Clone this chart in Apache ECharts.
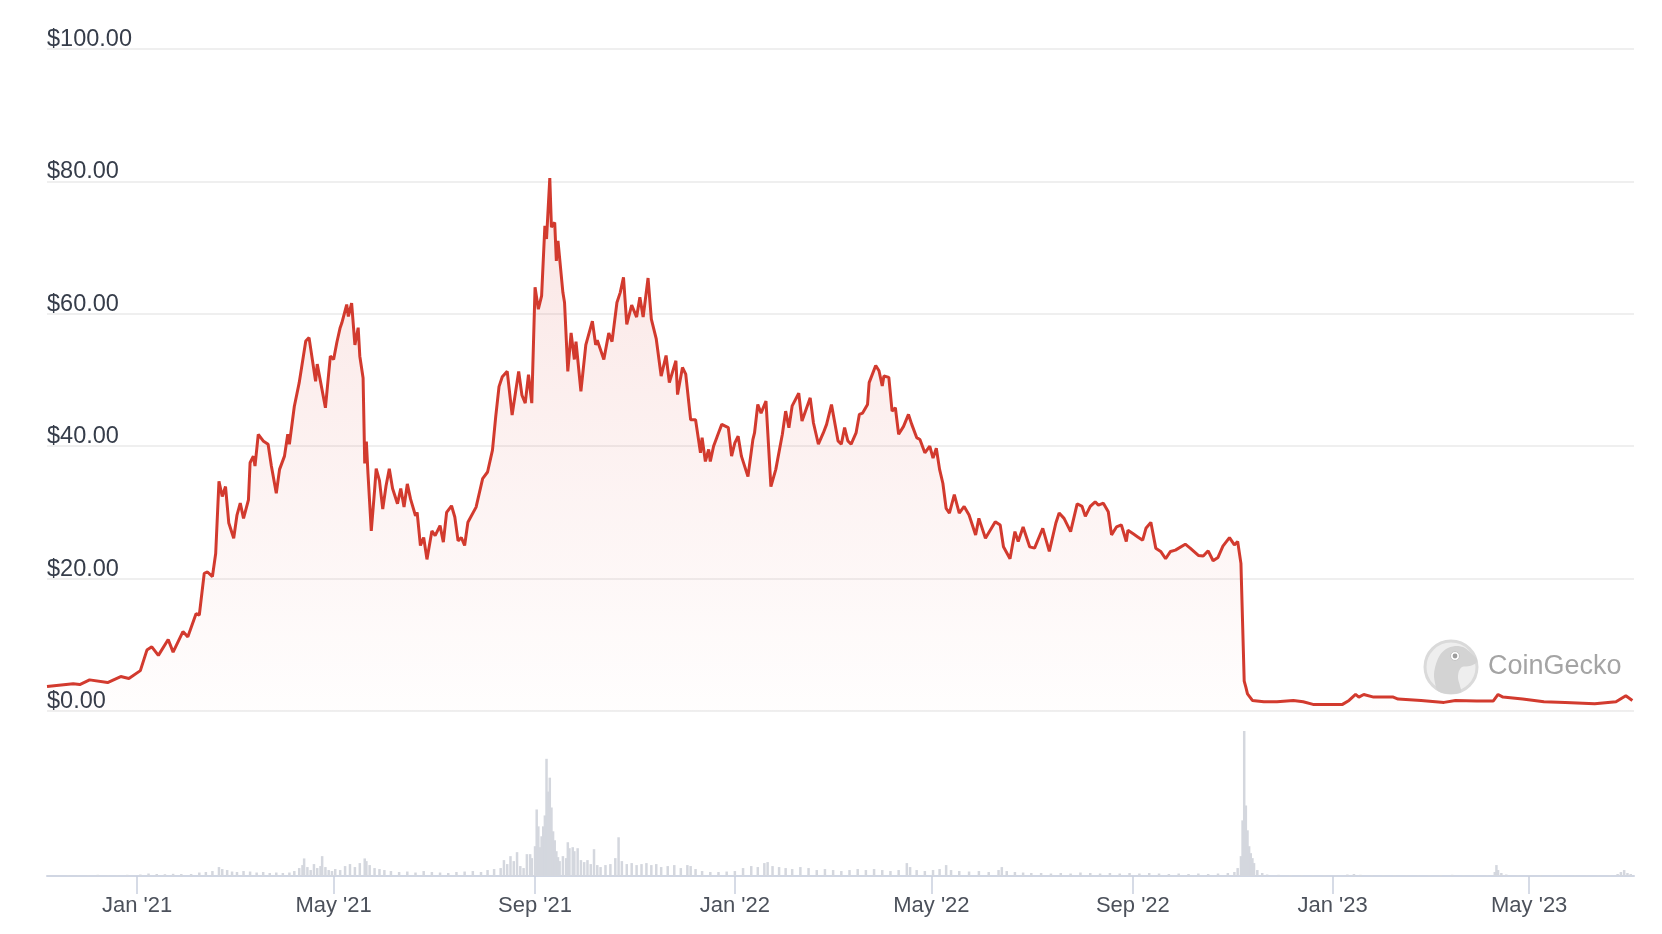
<!DOCTYPE html>
<html>
<head>
<meta charset="utf-8">
<script src="https://cdn.jsdelivr.net/npm/echarts@6/dist/echarts.min.js"></script>
<style>
html,body{margin:0;padding:0;background:#fff;}
#chart{width:1662px;height:934px;}
</style>
</head>
<body>
<div id="chart"></div>
<script>
// ---- Data ----
const axisStart = '2020-11-07';
const axisEnd = '2023-07-04';

const tickDates = ['2021-01-01','2021-05-01','2021-09-01','2022-01-01','2022-05-01','2022-09-01','2023-01-01','2023-05-01'];
const tickLabels = ["Jan '21","May '21","Sep '21","Jan '22","May '22","Sep '22","Jan '23","May '23"];

const priceTicks = [0, 20, 40, 60, 80, 100];

const priceDates = [
'2020-11-07','2020-11-23','2020-11-27','2020-12-03','2020-12-14','2020-12-22','2020-12-27',
'2021-01-03','2021-01-07','2021-01-10','2021-01-14','2021-01-20','2021-01-23','2021-01-29',
'2021-02-01','2021-02-06','2021-02-08','2021-02-11','2021-02-13','2021-02-16','2021-02-18','2021-02-20','2021-02-22','2021-02-24','2021-02-26',
'2021-03-01','2021-03-03','2021-03-05','2021-03-07','2021-03-10','2021-03-11','2021-03-13','2021-03-14','2021-03-16','2021-03-19','2021-03-22','2021-03-24','2021-03-27','2021-03-29',
'2021-04-01','2021-04-03','2021-04-04','2021-04-07','2021-04-10','2021-04-11','2021-04-14','2021-04-16','2021-04-20','2021-04-21','2021-04-26','2021-04-29',
'2021-05-01','2021-05-03','2021-05-05','2021-05-06','2021-05-09','2021-05-10','2021-05-12','2021-05-14','2021-05-16','2021-05-17','2021-05-19','2021-05-20','2021-05-21','2021-05-22','2021-05-24','2021-05-26','2021-05-27','2021-05-29','2021-05-31',
'2021-06-02','2021-06-04','2021-06-06','2021-06-09','2021-06-11','2021-06-13','2021-06-15','2021-06-17','2021-06-20','2021-06-21','2021-06-23','2021-06-25','2021-06-27','2021-06-30',
'2021-07-02','2021-07-05','2021-07-07','2021-07-09','2021-07-12','2021-07-14','2021-07-16','2021-07-18','2021-07-20','2021-07-22','2021-07-27','2021-07-31',
'2021-08-03','2021-08-06','2021-08-08','2021-08-10','2021-08-12','2021-08-15','2021-08-18','2021-08-22','2021-08-24','2021-08-26','2021-08-28','2021-08-30',
'2021-09-01','2021-09-03','2021-09-05','2021-09-07','2021-09-08','2021-09-10','2021-09-11','2021-09-13','2021-09-14','2021-09-15','2021-09-18','2021-09-19','2021-09-21','2021-09-23','2021-09-25','2021-09-26','2021-09-29',
'2021-10-02','2021-10-06','2021-10-08','2021-10-09','2021-10-13','2021-10-16','2021-10-18','2021-10-21','2021-10-23','2021-10-25','2021-10-27','2021-10-30',
'2021-11-02','2021-11-04','2021-11-06','2021-11-09','2021-11-11','2021-11-14','2021-11-17','2021-11-20','2021-11-22','2021-11-26','2021-11-27','2021-11-30',
'2021-12-02','2021-12-05','2021-12-08','2021-12-11','2021-12-12','2021-12-14','2021-12-16','2021-12-17','2021-12-19','2021-12-22','2021-12-24','2021-12-28','2021-12-30',
'2022-01-01','2022-01-03','2022-01-05','2022-01-09','2022-01-12','2022-01-13','2022-01-15','2022-01-17','2022-01-20','2022-01-23','2022-01-26','2022-01-30',
'2022-02-01','2022-02-03','2022-02-05','2022-02-09','2022-02-11','2022-02-16','2022-02-18','2022-02-21','2022-02-24','2022-02-26',
'2022-03-01','2022-03-02','2022-03-05','2022-03-07','2022-03-09','2022-03-11','2022-03-13','2022-03-16','2022-03-18','2022-03-20','2022-03-23','2022-03-24','2022-03-28','2022-03-30',
'2022-04-01','2022-04-02','2022-04-05','2022-04-07','2022-04-09','2022-04-11','2022-04-14','2022-04-17','2022-04-19','2022-04-22','2022-04-24','2022-04-27','2022-04-30',
'2022-05-02','2022-05-04','2022-05-06','2022-05-08','2022-05-10','2022-05-12','2022-05-15','2022-05-18','2022-05-21','2022-05-24','2022-05-28','2022-05-30',
'2022-06-03','2022-06-09','2022-06-12','2022-06-14','2022-06-18','2022-06-21','2022-06-23','2022-06-26','2022-06-30',
'2022-07-03','2022-07-08','2022-07-12','2022-07-16','2022-07-18','2022-07-21','2022-07-25','2022-07-29',
'2022-08-01','2022-08-03','2022-08-06','2022-08-09','2022-08-11','2022-08-14','2022-08-17','2022-08-19','2022-08-22','2022-08-25','2022-08-28','2022-08-29',
'2022-09-01','2022-09-04','2022-09-07','2022-09-09','2022-09-12','2022-09-15','2022-09-18','2022-09-21','2022-09-24','2022-09-27',
'2022-10-03','2022-10-06','2022-10-11','2022-10-14','2022-10-17','2022-10-20','2022-10-23','2022-10-26','2022-10-30',
'2022-11-02','2022-11-04','2022-11-06','2022-11-07','2022-11-08','2022-11-09','2022-11-10','2022-11-13','2022-11-20','2022-11-28',
'2022-12-08','2022-12-14','2022-12-20','2022-12-29',
'2023-01-07','2023-01-11','2023-01-15','2023-01-17','2023-01-20','2023-01-26',
'2023-02-07','2023-02-10','2023-02-24','2023-03-10','2023-03-17','2023-03-30',
'2023-04-09','2023-04-12','2023-04-15','2023-04-27','2023-05-10','2023-05-23',
'2023-06-10','2023-06-23','2023-06-29','2023-07-03'
];
const priceValues = [
3.7,4.1,4.0,4.7,4.3,5.2,4.9,
6.1,9.2,9.7,8.4,10.8,8.9,12.0,
11.2,14.7,14.5,20.8,21.0,20.3,23.8,34.7,32.4,33.9,28.4,
26.1,29.6,31.4,29.1,31.9,37.5,38.5,37.0,41.8,40.8,40.3,37.0,32.9,36.5,
38.5,41.8,40.3,46.0,49.6,49.3,55.9,56.4,49.8,52.4,45.8,53.6,
53.1,55.7,57.9,58.6,61.4,59.6,61.6,55.3,57.9,53.6,50.3,37.4,40.7,35.8,27.2,33.3,36.6,34.8,30.5,
34.0,36.6,33.6,31.3,33.6,30.8,34.3,32.0,29.5,30.0,25.0,26.2,22.9,27.2,
26.5,28.0,25.5,30.0,31.0,29.3,25.7,26.2,25.0,28.5,30.8,35.1,
36.1,39.4,44.5,49.0,50.5,51.3,44.7,51.3,47.7,46.5,50.8,46.5,
64.0,60.7,62.7,73.3,71.3,80.5,73.1,73.8,68.0,71.0,63.2,61.7,51.3,57.1,53.1,55.8,48.3,
55.3,58.9,55.3,56.0,53.1,57.1,55.8,61.7,63.2,65.5,58.4,61.3,
59.5,62.5,59.5,65.4,59.2,56.2,50.6,53.7,49.6,52.9,47.8,51.9,
50.9,44.0,44.0,39.0,41.3,37.7,39.5,37.7,40.0,42.0,43.3,42.8,38.5,
40.5,41.5,38.5,35.4,41.0,42.0,46.3,45.0,46.8,33.9,36.5,41.8,
45.3,42.8,46.1,48.0,43.8,47.3,43.5,40.3,42.0,43.3,
46.3,46.0,40.8,40.3,42.8,40.8,40.3,42.0,44.8,45.0,46.3,49.6,52.2,51.4,
49.1,50.6,50.4,45.3,45.8,41.8,43.0,44.8,43.3,41.3,41.0,39.0,40.0,
38.2,39.7,36.5,34.4,30.6,29.9,32.7,29.9,30.9,29.6,26.6,29.1,
26.1,28.6,28.1,24.8,23.0,27.1,25.6,27.8,24.8,
24.6,27.6,24.1,28.4,29.9,29.1,27.1,31.3,
30.9,29.4,30.9,31.6,31.1,31.4,30.1,26.6,27.8,28.1,25.6,27.3,
26.8,26.3,25.8,27.6,28.5,24.6,24.1,23.0,24.1,24.3,
25.2,24.6,23.5,23.4,24.2,22.7,23.2,24.9,26.2,
25.1,25.6,22.3,22.0,4.5,3.6,2.6,1.6,1.4,1.4,
1.6,1.4,1.0,1.0,
1.0,1.6,2.5,2.1,2.5,2.1,
2.1,1.8,1.6,1.3,1.6,1.5,
1.5,2.5,2.1,1.8,1.4,1.3,
1.1,1.4,2.3,1.6
];

const volumeDates = [
'2020-11-08','2020-11-14','2020-11-20','2020-11-26','2020-12-02','2020-12-08','2020-12-14','2020-12-20','2020-12-26',
'2021-01-03','2021-01-08','2021-01-13','2021-01-18','2021-01-23','2021-01-28',
'2021-02-03','2021-02-08','2021-02-12','2021-02-16','2021-02-20','2021-02-22','2021-02-25','2021-02-28',
'2021-03-03','2021-03-07','2021-03-11','2021-03-15','2021-03-19','2021-03-23','2021-03-27','2021-03-31',
'2021-04-04','2021-04-07','2021-04-10','2021-04-12','2021-04-13','2021-04-15','2021-04-17','2021-04-19','2021-04-21','2021-04-23','2021-04-24','2021-04-26','2021-04-28','2021-04-30',
'2021-05-02','2021-05-05','2021-05-08','2021-05-11','2021-05-14','2021-05-17','2021-05-20','2021-05-21','2021-05-23','2021-05-26','2021-05-29',
'2021-06-01','2021-06-05','2021-06-10','2021-06-15','2021-06-20','2021-06-25','2021-06-30',
'2021-07-05','2021-07-10','2021-07-15','2021-07-20','2021-07-25','2021-07-30',
'2021-08-03','2021-08-07','2021-08-11','2021-08-13','2021-08-15','2021-08-17','2021-08-19','2021-08-21','2021-08-23','2021-08-25','2021-08-27','2021-08-29','2021-08-30',
'2021-09-01','2021-09-02','2021-09-03','2021-09-04','2021-09-05','2021-09-06','2021-09-07','2021-09-08','2021-09-09','2021-09-10','2021-09-11','2021-09-12','2021-09-13','2021-09-14','2021-09-15','2021-09-16','2021-09-18','2021-09-20','2021-09-21','2021-09-22','2021-09-24','2021-09-25','2021-09-27','2021-09-29',
'2021-10-01','2021-10-03','2021-10-05','2021-10-07','2021-10-09','2021-10-11','2021-10-14','2021-10-17','2021-10-20','2021-10-22','2021-10-24','2021-10-27','2021-10-30',
'2021-11-02','2021-11-05','2021-11-08','2021-11-11','2021-11-14','2021-11-17','2021-11-21','2021-11-25','2021-11-29',
'2021-12-03','2021-12-05','2021-12-08','2021-12-12','2021-12-17','2021-12-22','2021-12-27',
'2022-01-01','2022-01-06','2022-01-11','2022-01-15','2022-01-19','2022-01-21','2022-01-24','2022-01-28',
'2022-02-01','2022-02-05','2022-02-10','2022-02-15','2022-02-20','2022-02-25',
'2022-03-02','2022-03-07','2022-03-12','2022-03-17','2022-03-22','2022-03-27',
'2022-04-01','2022-04-06','2022-04-11','2022-04-16','2022-04-18','2022-04-22','2022-04-27',
'2022-05-02','2022-05-06','2022-05-10','2022-05-13','2022-05-18','2022-05-24','2022-05-30',
'2022-06-05','2022-06-11','2022-06-13','2022-06-16','2022-06-21','2022-06-26',
'2022-07-01','2022-07-07','2022-07-13','2022-07-19','2022-07-25','2022-07-31',
'2022-08-06','2022-08-12','2022-08-18','2022-08-24','2022-08-30',
'2022-09-05','2022-09-11','2022-09-17','2022-09-23','2022-09-29',
'2022-10-05','2022-10-11','2022-10-17','2022-10-23','2022-10-29',
'2022-11-02','2022-11-04','2022-11-06','2022-11-07','2022-11-08','2022-11-09','2022-11-10','2022-11-11','2022-11-12','2022-11-13','2022-11-14','2022-11-16','2022-11-19','2022-11-22','2022-11-29',
'2022-12-06','2022-12-13','2022-12-20','2022-12-27',
'2023-01-03','2023-01-10','2023-01-14','2023-01-18','2023-01-25',
'2023-02-01','2023-02-08','2023-02-15','2023-02-22',
'2023-03-01','2023-03-08','2023-03-15','2023-03-22','2023-03-29',
'2023-04-05','2023-04-10','2023-04-11','2023-04-12','2023-04-14','2023-04-17','2023-04-24',
'2023-05-01','2023-05-08','2023-05-15','2023-05-22','2023-05-29',
'2023-06-05','2023-06-12','2023-06-19','2023-06-24','2023-06-26','2023-06-28','2023-06-30','2023-07-02'
];
const volumeValues = [
8,6,10,8,10,12,8,10,12,
15,25,20,18,22,20,
20,35,40,50,90,70,60,45,
40,50,45,35,40,30,35,30,
35,50,80,110,177,90,60,120,80,100,200,90,60,50,
70,60,100,120,90,130,177,150,110,80,70,
60,50,40,45,35,50,40,
35,30,40,45,50,40,
60,70,80,160,120,200,150,240,100,80,220,220,180,
300,670,500,290,400,500,610,1180,850,990,690,450,360,250,190,150,200,180,340,280,290,250,280,160,
140,160,120,270,110,90,110,120,180,390,150,120,130,
110,120,130,110,120,90,100,110,80,
110,100,70,50,40,40,45,
50,80,100,90,130,140,100,90,
80,70,90,80,60,70,
60,50,60,70,60,70,
60,50,60,130,90,60,50,
60,70,110,60,50,45,50,
40,60,90,50,40,35,
30,30,25,30,25,35,
30,25,30,25,30,
25,30,25,20,25,
20,25,20,25,30,
40,80,200,560,1460,710,460,300,230,180,130,60,30,15,12,
10,10,8,8,
8,15,20,12,8,
8,10,8,8,
8,10,12,8,8,
8,40,110,60,30,15,8,
8,8,8,8,8,
8,8,10,20,40,60,30,20
];

// ---- Helpers ----
function toTs(s) {
  return Date.UTC(+s.slice(0, 4), +s.slice(5, 7) - 1, +s.slice(8, 10));
}
const tickTs = tickDates.map(toTs);
const priceData = priceDates.map((d, i) => [toTs(d), priceValues[i]]);
const volumeData = volumeDates.map((d, i) => [toTs(d), volumeValues[i]]);

const FONT = '"Liberation Sans", Arial, Helvetica, sans-serif';
const cx = 1451, cy = 667;

const chart = echarts.init(document.getElementById('chart'), null, { renderer: 'canvas' });
chart.setOption({
  animation: false,
  backgroundColor: '#ffffff',
  grid: [
    { left: 47, right: 28, top: 49, bottom: 223 },
    { left: 47, right: 28, top: 731, bottom: 58 }
  ],
  xAxis: [
    {
      type: 'value', gridIndex: 0, min: toTs(axisStart), max: toTs(axisEnd),
      show: false, splitLine: { show: false }
    },
    {
      type: 'value', gridIndex: 1, min: toTs(axisStart), max: toTs(axisEnd),
      axisLine: { show: true, lineStyle: { color: '#d0d6e3', width: 2 } },
      axisTick: { show: true, customValues: tickTs, length: 18, lineStyle: { color: '#c9d0de', width: 1.5 } },
      axisLabel: {
        show: true, customValues: tickTs, margin: 19, fontSize: 22, color: '#4c515b', fontFamily: FONT,
        formatter: function (v) {
          const i = tickTs.indexOf(v);
          return i >= 0 ? tickLabels[i] : '';
        }
      },
      splitLine: { show: false }
    }
  ],
  yAxis: [
    {
      type: 'value', gridIndex: 0, min: priceTicks[0], max: priceTicks[priceTicks.length - 1], interval: 20,
      axisLine: { show: false }, axisTick: { show: false },
      axisLabel: {
        inside: true, margin: 0, align: 'left', verticalAlign: 'bottom',
        fontSize: 23.5, lineHeight: 19, color: '#363d4a', fontFamily: FONT,
        formatter: v => '$' + v.toFixed(2)
      },
      splitLine: { show: true, lineStyle: { color: '#efefef', width: 2 } }
    },
    {
      type: 'value', gridIndex: 1, min: 0, max: 'dataMax', show: false,
      splitLine: { show: false }
    }
  ],
  series: [
    {
      type: 'bar', xAxisIndex: 1, yAxisIndex: 1, data: volumeData,
      barWidth: 2.5, itemStyle: { color: '#d4d7de' }, z: 1
    },
    {
      type: 'line', xAxisIndex: 0, yAxisIndex: 0, data: priceData,
      showSymbol: false, smooth: false,
      lineStyle: { color: '#d23a2e', width: 3 },
      itemStyle: { color: '#d23a2e' },
      areaStyle: {
        color: new echarts.graphic.LinearGradient(0, 0, 0, 1, [
          { offset: 0, color: 'rgba(220,70,60,0.2)' },
          { offset: 1, color: 'rgba(220,70,60,0.01)' }
        ])
      },
      z: 3
    }
  ],
  graphic: [
    {
      type: 'circle', z: 10,
      shape: { cx: cx, cy: cy, r: 26 },
      style: { fill: '#eeeeee', stroke: '#dadada', lineWidth: 3 }
    },
    {
      type: 'polygon', z: 11,
      shape: {
        smooth: 0.3,
        points: [[1438,691],[1435,683],[1434,674],[1436,664],[1440,655],[1446,649],[1455,646],[1463,647],[1469,651],[1473,655],[1477,659],[1476,663],[1470,666],[1462,667],[1459,671],[1458,678],[1460,686],[1461,692],[1450,694]]
      },
      style: { fill: '#d3d3d3' }
    },
    {
      type: 'circle', z: 12,
      shape: { cx: 1455, cy: 656, r: 4.5 },
      style: { fill: '#ffffff', stroke: '#c4c4c4', lineWidth: 1 }
    },
    {
      type: 'circle', z: 13,
      shape: { cx: 1455, cy: 656, r: 2.4 },
      style: { fill: '#9d9d9d' }
    },
    {
      type: 'text', z: 10, x: 1488, y: cy,
      style: { text: 'CoinGecko', fontSize: 27, fontFamily: FONT, fill: '#a4a4a4', verticalAlign: 'middle' }
    }
  ]
});
</script>
</body>
</html>
